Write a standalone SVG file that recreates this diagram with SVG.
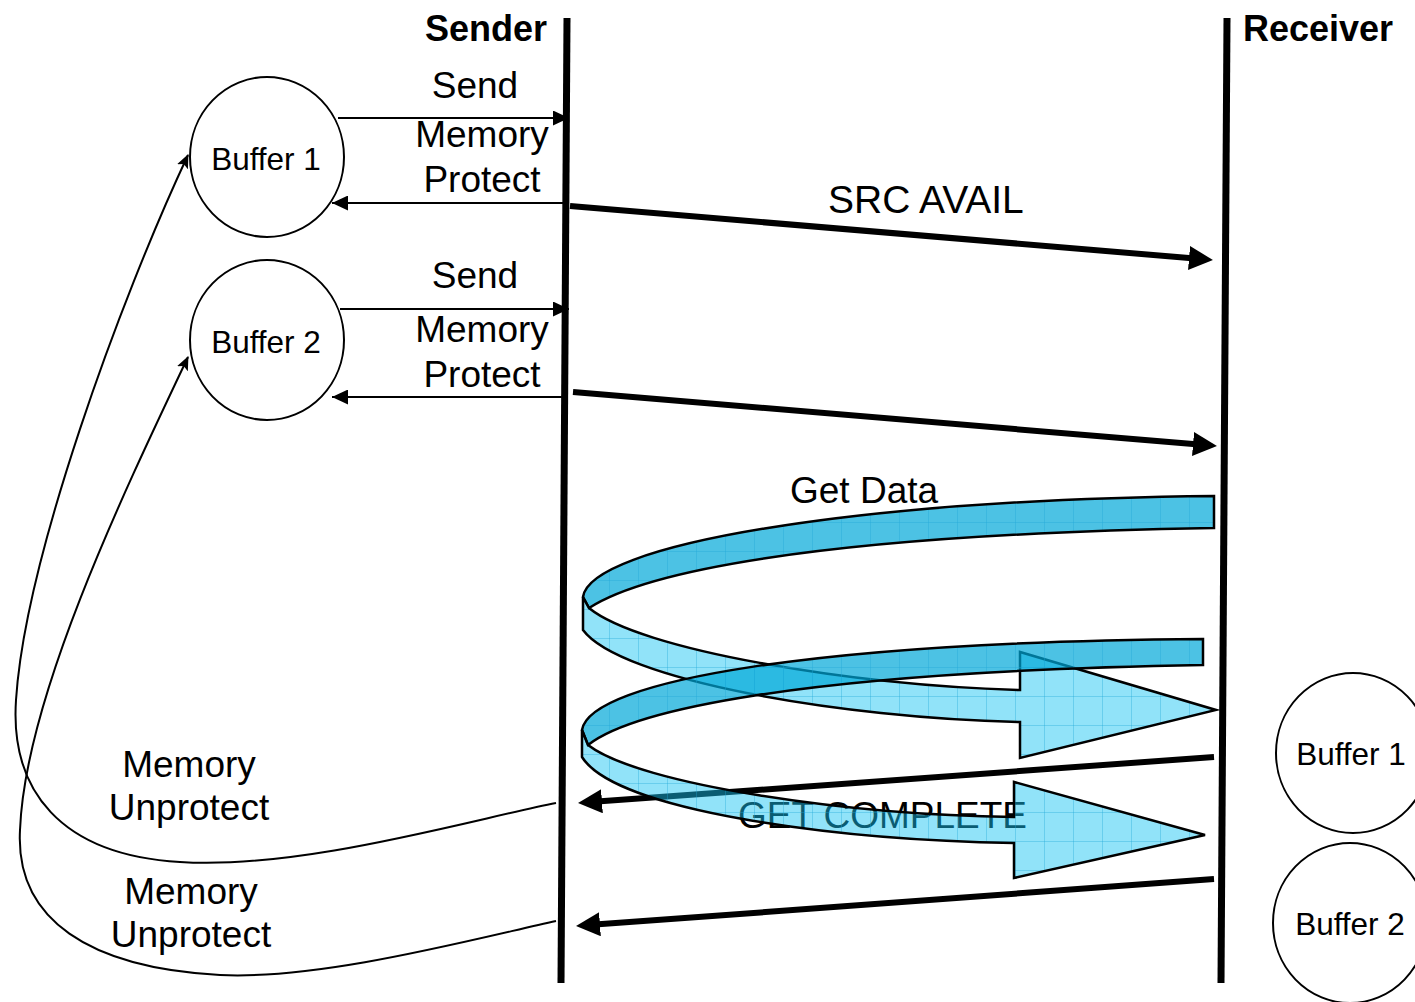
<svg xmlns="http://www.w3.org/2000/svg" xmlns:xlink="http://www.w3.org/1999/xlink" width="1415" height="1002" viewBox="0 0 1415 1002">
  <style>
    .t { font-family: "Liberation Sans", Arial, sans-serif; fill: #000; }
    .lbl { font-size: 37px; }
    .buf { font-size: 31.5px; }
    .title { font-size: 36px; font-weight: bold; }
    .life { stroke: #000; stroke-width: 7; fill: none; }
    .thin { stroke: #000; stroke-width: 2; fill: none; }
    .thick { stroke: #000; stroke-width: 6; fill: none; }
    .node { fill: #fff; stroke: #000; stroke-width: 2; }
    .back { fill: #00a8d8; fill-opacity: 0.7; stroke: none; }
    .front { fill: #16c4f3; fill-opacity: 0.47; stroke: none; }
    .grid { fill: url(#gridPat); stroke: #000; stroke-width: 2.5; stroke-linejoin: miter; }
  </style>
  <defs>
    <marker id="headThin" markerUnits="userSpaceOnUse" markerWidth="16" markerHeight="15" refX="16" refY="7.5" orient="auto">
      <path d="M0,0 L16,7.5 L0,15 Z" fill="#000"/>
    </marker>
    <marker id="headThick" markerUnits="userSpaceOnUse" markerWidth="24" markerHeight="24" refX="12" refY="12" orient="auto">
      <path d="M0,0 L24,12 L0,24 Z" fill="#000"/>
    </marker>
    <marker id="headCurve" markerUnits="userSpaceOnUse" markerWidth="14" markerHeight="12" refX="13" refY="6" orient="auto">
      <path d="M0,0 L14,6 L0,12 L3,6 Z" fill="#000"/>
    </marker>
    <pattern id="gridPat" patternUnits="userSpaceOnUse" width="29" height="29">
      <path d="M0,0.5 H29 M0.5,0 V29" stroke="#1ea6d6" stroke-opacity="0.35" stroke-width="1" fill="none"/>
    </pattern>
    <!-- ribbon outlines -->
    <path id="r1back" d="M1214,496 C850,500 590,545 583,597 L589,608 C640,575 800,535 1214,528 Z"/>
    <path id="r1front" d="M589,608 C640,650 850,685 1020,690 L1020,652 L1216,710 L1020,758 L1020,722 C840,718 620,680 583,630 L583,597 Z"/>
    <path id="r2back" d="M1203,639 C820,642 590,680 582,730 L588,745 C630,712 790,672 1203,665 Z"/>
    <path id="r2front" d="M588,745 C640,785 850,815 1014,817 L1014,782 L1205,835 L1014,878 L1014,843 C830,840 615,810 582,757 L582,730 Z"/>
  </defs>

  <!-- lifelines -->
  <g id="lifelines">
    <line class="life" x1="567" y1="18" x2="561" y2="983"/>
    <line class="life" x1="1227" y1="18" x2="1221" y2="983"/>
  </g>
  <text class="t title" x="486" y="41" text-anchor="middle">Sender</text>
  <text class="t title" x="1243" y="41">Receiver</text>

  <!-- sender-side buffers -->
  <g id="sbuf1">
    <ellipse class="node" cx="267" cy="157" rx="77" ry="80"/>
    <text class="t buf" x="266" y="170" text-anchor="middle">Buffer 1</text>
  </g>
  <g id="sbuf2">
    <ellipse class="node" cx="267" cy="340" rx="77" ry="80"/>
    <text class="t buf" x="266" y="353" text-anchor="middle">Buffer 2</text>
  </g>

  <!-- receiver-side buffers -->
  <g id="rbuf1">
    <ellipse class="node" cx="1353" cy="753" rx="77" ry="80"/>
    <text class="t buf" x="1351" y="765" text-anchor="middle">Buffer 1</text>
  </g>
  <g id="rbuf2">
    <ellipse class="node" cx="1350" cy="923" rx="77" ry="80"/>
    <text class="t buf" x="1350" y="935" text-anchor="middle">Buffer 2</text>
  </g>

  <!-- connectors -->
  <g id="connectors">
    <line class="thin" x1="338" y1="118" x2="569" y2="118" marker-end="url(#headThin)"/>
    <line class="thin" x1="563" y1="203" x2="332" y2="203" marker-end="url(#headThin)"/>
    <line class="thin" x1="340" y1="309" x2="569" y2="309" marker-end="url(#headThin)"/>
    <line class="thin" x1="563" y1="397" x2="332" y2="397" marker-end="url(#headThin)"/>

    <line class="thick" x1="570" y1="206" x2="1201" y2="259" marker-end="url(#headThick)"/>
    <line class="thick" x1="573" y1="392" x2="1205" y2="445" marker-end="url(#headThick)"/>
    <line class="thick" x1="1214" y1="757" x2="590" y2="802.1" marker-end="url(#headThick)"/>
    <line class="thick" x1="1214" y1="879" x2="588" y2="925.1" marker-end="url(#headThick)"/>

    <path class="thin" d="M556,803 C470,820 300,870 180,862 C60,855 10,790 16,700 C25,560 120,300 188,155" marker-end="url(#headCurve)"/>
    <path class="thin" d="M556,921 C470,940 320,980 220,975 C90,968 15,920 20,830 C25,700 120,500 188,357" marker-end="url(#headCurve)"/>
  </g>

  <!-- labels -->
  <text class="t lbl" x="475" y="98" text-anchor="middle">Send</text>
  <text class="t lbl" x="482" y="147" text-anchor="middle">Memory</text>
  <text class="t lbl" x="482" y="192" text-anchor="middle">Protect</text>
  <text class="t lbl" x="475" y="288" text-anchor="middle">Send</text>
  <text class="t lbl" x="482" y="342" text-anchor="middle">Memory</text>
  <text class="t lbl" x="482" y="387" text-anchor="middle">Protect</text>
  <text class="t lbl" x="828" y="213" style="font-size:39px">SRC AVAIL</text>
  <text class="t lbl" x="790" y="503">Get Data</text>
  <text class="t lbl" x="738" y="828" textLength="289" lengthAdjust="spacingAndGlyphs">GET COMPLETE</text>
  <text class="t lbl" x="189" y="777" text-anchor="middle">Memory</text>
  <text class="t lbl" x="189" y="820" text-anchor="middle">Unprotect</text>
  <text class="t lbl" x="191" y="904" text-anchor="middle">Memory</text>
  <text class="t lbl" x="191" y="947" text-anchor="middle">Unprotect</text>

  <!-- data-transfer ribbons -->
  <g id="ribbon1">
    <use xlink:href="#r1back" class="back"/>
    <use xlink:href="#r1back" class="grid"/>
    <use xlink:href="#r1front" class="front"/>
    <use xlink:href="#r1front" class="grid"/>
  </g>
  <g id="ribbon2">
    <use xlink:href="#r2back" class="back"/>
    <use xlink:href="#r2back" class="grid"/>
    <use xlink:href="#r2front" class="front"/>
    <use xlink:href="#r2front" class="grid"/>
  </g>
</svg>
